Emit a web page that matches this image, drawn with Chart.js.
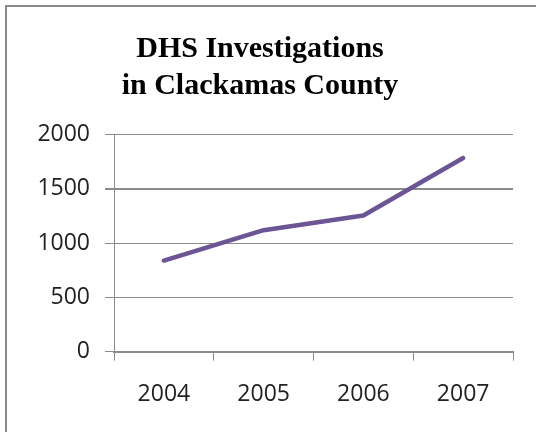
<!DOCTYPE html>
<html>
<head>
<meta charset="utf-8">
<script src="https://cdn.jsdelivr.net/npm/chart.js@4/dist/chart.umd.min.js"></script>
<style>
  html, body { margin: 0; padding: 0; background: #fff; overflow: hidden; }
  #frame {
    position: absolute; left: 5px; top: 5px;
    width: 560px; height: 460px;
    border: 2px solid #8a8a8a;
  }
  #wrap { position: absolute; left: 7px; top: 7px; width: 529px; height: 425px; }
</style>
</head>
<body>
<div id="frame"></div>
<div id="wrap"><canvas id="myChart" width="529" height="425"></canvas></div>
<script>
// DATA
const years = ["2004", "2005", "2006", "2007"];
const investigations = [840, 1120, 1255, 1785];
const titleLines = ["DHS Investigations", "in Clackamas County"];

const ctx = document.querySelector("#myChart");
const gridGray = "#8c8c8c";

// CHART
const chart = new Chart(ctx, {
  type: "line",
  data: {
    labels: years,
    datasets: [
      {
        label: "Investigations",
        data: investigations,
        borderColor: "#6b5595",
        borderWidth: 4.5,
        borderCapStyle: "round",
        borderJoinStyle: "round",
        pointRadius: 0,
        tension: 0,
        fill: false,
      },
    ],
  },
  options: {
    responsive: false,
    animation: false,
    layout: { padding: { left: 0, right: 23, top: 0, bottom: 0 } },
    plugins: {
      legend: { display: false },
      tooltip: { enabled: false },
      title: {
        display: true,
        text: titleLines,
        color: "#000",
        font: { family: "Liberation Serif", size: 30, weight: "bold", lineHeight: 1.233 },
        padding: { top: 24, bottom: 29.7 },
      },
    },
    scales: {
      x: {
        offset: true,
        grid: {
          offset: true,
          drawOnChartArea: false,
          drawTicks: true,
          tickLength: 9,
          color: gridGray,
        },
        border: { color: gridGray, width: 2 },
        ticks: {
          color: "#222",
          padding: 19.5,
          font: { family: "Open Sans", size: 23 },
        },
        afterFit: (scale) => {
          scale.height = 80.3;
        },
      },
      y: {
        min: 0,
        max: 2000,
        ticks: {
          stepSize: 500,
          color: "#222",
          padding: 15,
          font: { family: "Open Sans", size: 23 },
          callback: (value) => String(value),
        },
        grid: {
          color: gridGray,
          tickLength: 9,
          lineWidth: (c) => (c.tick && c.tick.value === 1500 ? 2 : 1),
        },
        border: { color: gridGray, width: 1 },
        afterFit: (scale) => {
          scale.width = 107;
        },
      },
    },
  },
});
</script>
</body>
</html>
